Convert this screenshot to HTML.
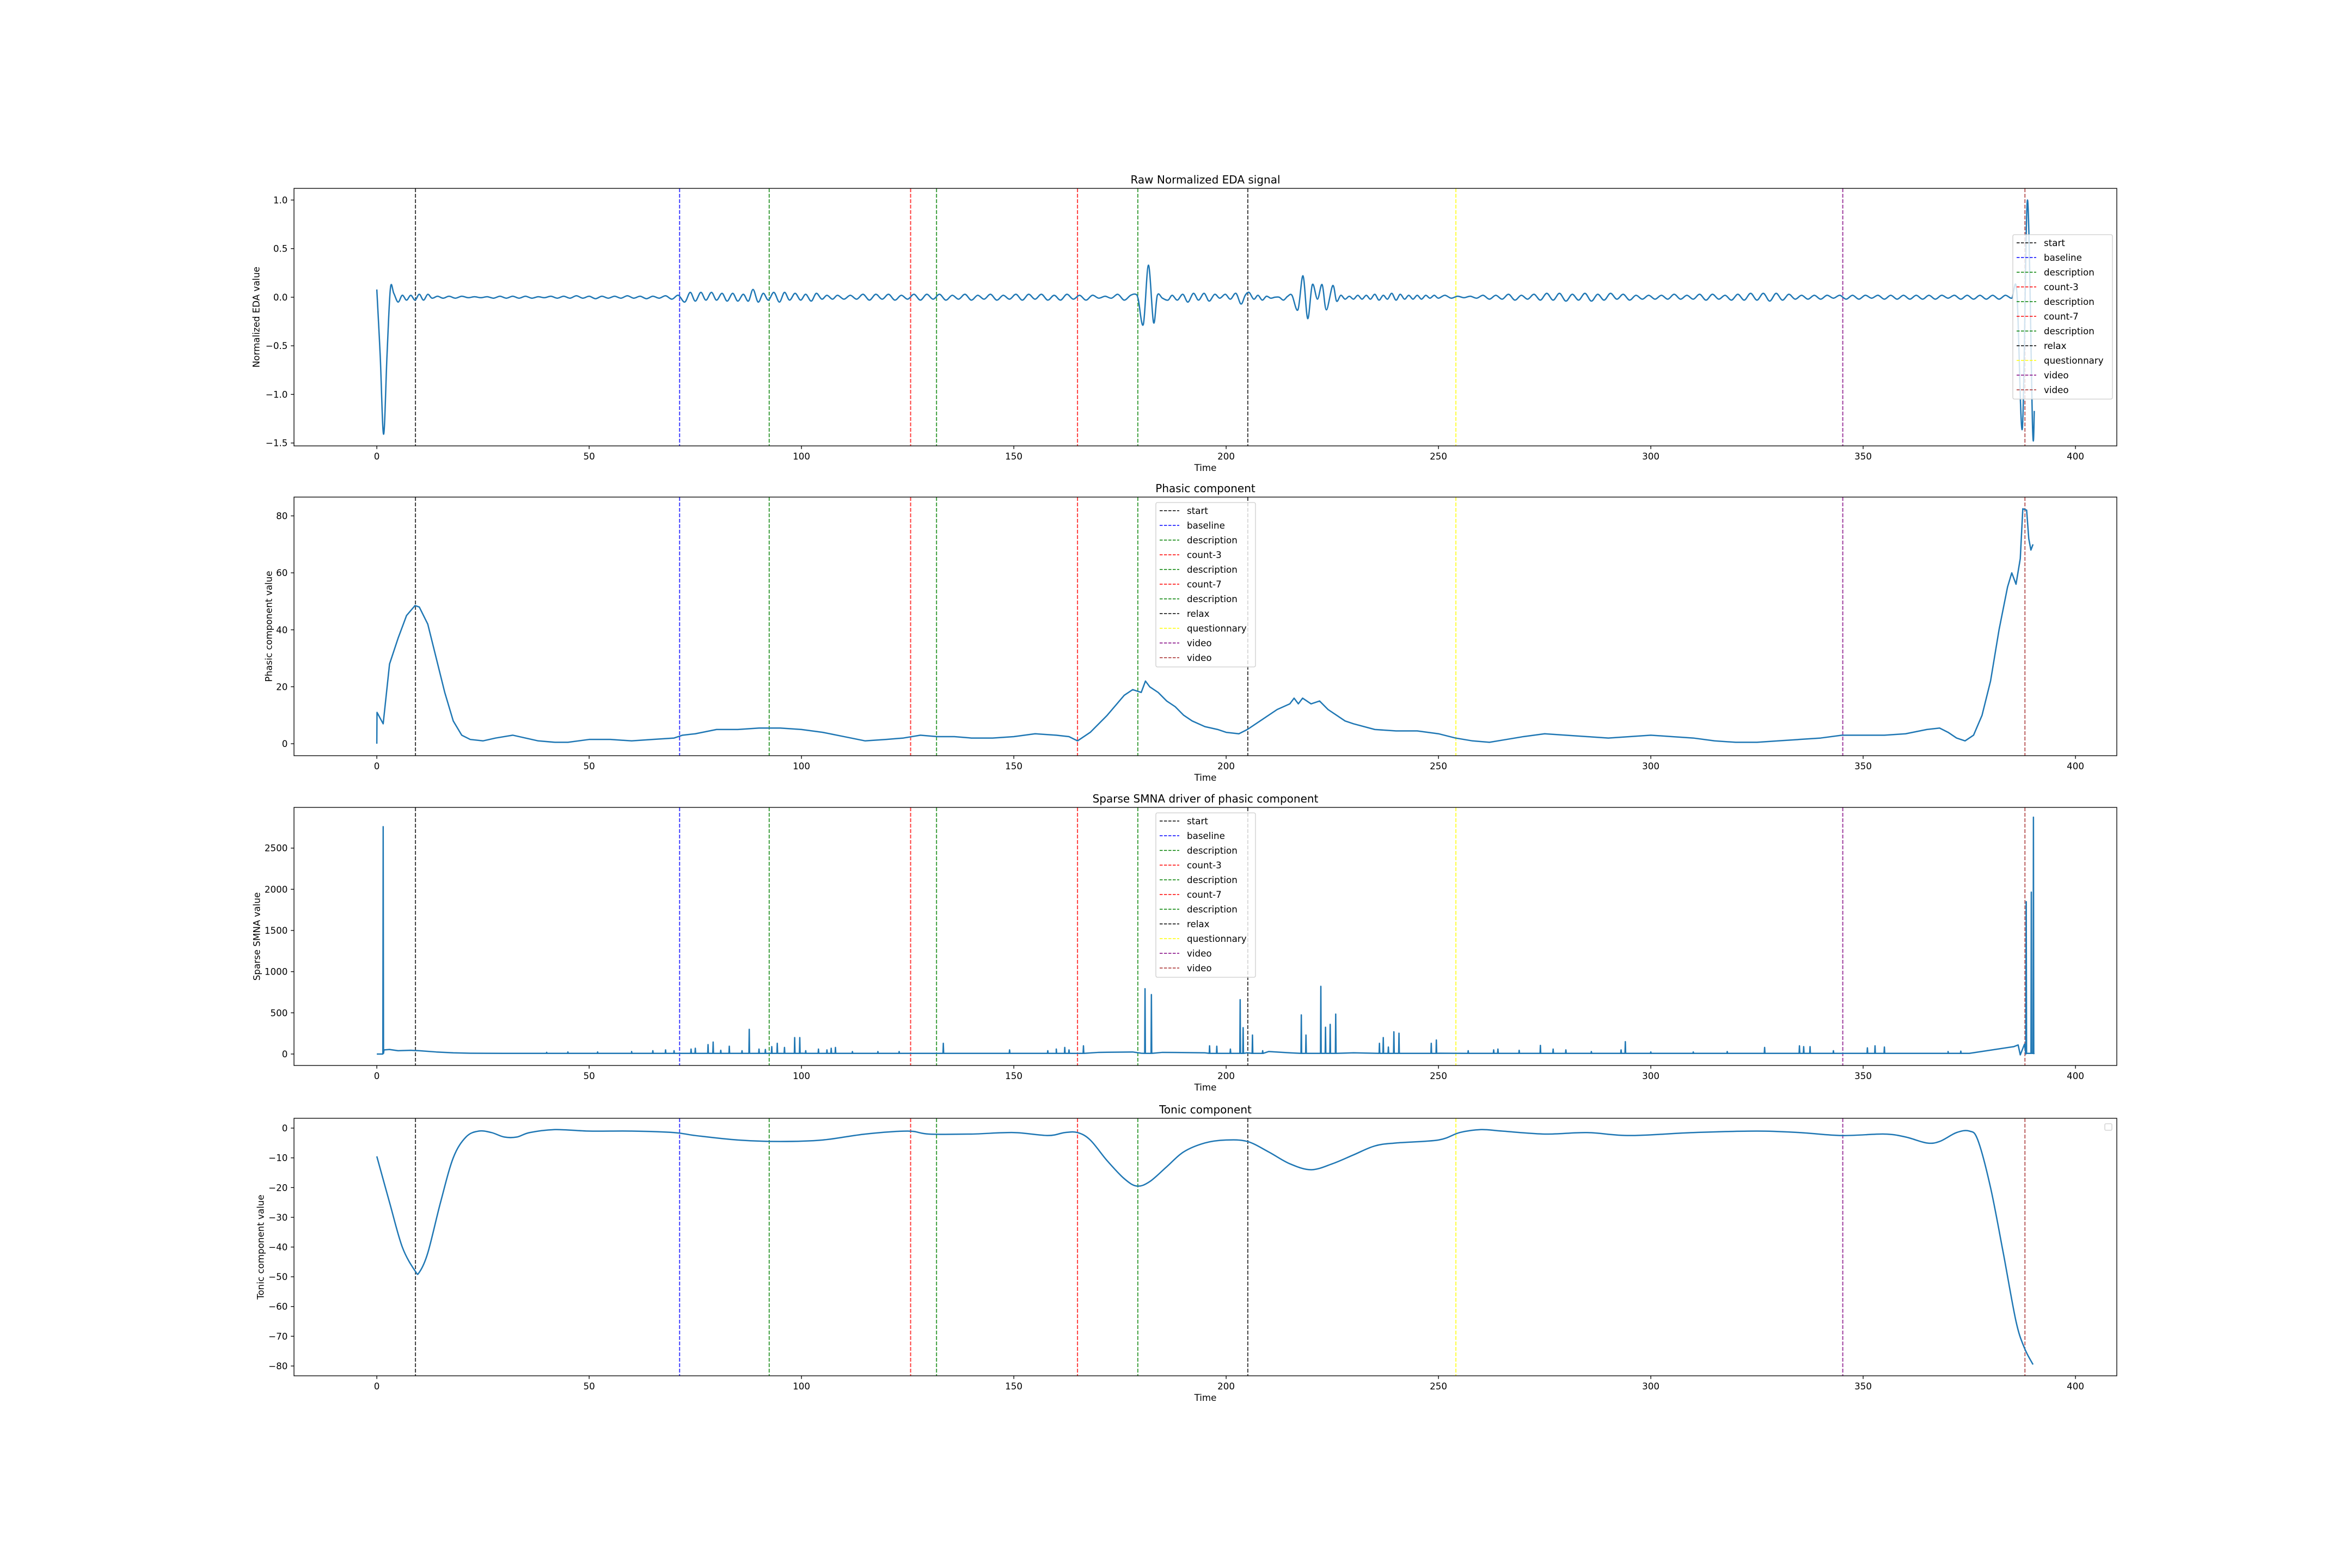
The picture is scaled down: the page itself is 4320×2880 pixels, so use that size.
<!DOCTYPE html>
<html><head><meta charset="utf-8"><title>EDA decomposition</title>
<style>
html,body{margin:0;padding:0;background:#fff;}
svg{display:block;font-family:"DejaVu Sans","Liberation Sans",sans-serif;}
</style></head>
<body>
<svg id="fig" width="4320" height="2880" viewBox="0 0 4320 2880" xmlns="http://www.w3.org/2000/svg">
<rect width="4320" height="2880" fill="#fff"/>
</svg>
<script>
// ---------- data ----------
const xTicks = [0,50,100,150,200,250,300,350,400];
const eventTimes = [9.1,71.3,92.4,125.7,131.8,165.0,179.2,205.1,254.1,345.2,388.1];
const eventLabels = ["start","baseline","description","count-3","description","count-7","description","relax","questionnary","video","video"];
const eventColors = ["#000000","#0000ff","#008000","#ff0000","#008000","#ff0000","#008000","#000000","#ffff00","#800080","#a52a2a"];

const edaKnots = [
[0,0.08],[0.8,-0.6],[1.6,-1.41],[2.4,-0.6],[3.2,0.09],[4,0.04],[5,-0.05],[6,0.02],[7,-0.03],[8,0.02],[9,-0.03],[10,0.03],[11,-0.03],[12,0.03],[13,-0.01],
[14.3,0.01],[15.6,-0.01],[17,0.01],[18.5,-0.01],[20,0.01],[21.5,-0.005],[23,0.005],[24.5,-0.005],[26,0.005],[27.5,-0.01],[29,0.01],[30.5,-0.01],[32,0.01],
[33.5,-0.01],[35,0.01],[36.5,-0.01],[38,0.005],[39.5,-0.005],[41,0.01],[42.5,-0.01],[44,0.01],[45.5,-0.01],[47,0.015],[48.5,-0.01],[50,0.01],[51.5,-0.015],
[53,0.01],[54.5,-0.01],[56,0.01],[57.5,-0.01],[59,0.015],[60.5,-0.01],[62,0.01],[63.5,-0.015],[65,0.01],[66.5,-0.01],[68,0.015],[69.5,-0.02],[71,0.02],
[72.5,-0.05],[73.8,0.05],[75,-0.04],[76.3,0.05],[77.5,-0.03],[78.8,0.05],[80,-0.03],[81.3,0.04],[82.5,-0.04],[83.8,0.04],[85,-0.04],[86.3,0.03],[87.5,-0.04],
[88.6,0.08],[89.8,-0.05],[91,0.04],[92.2,-0.03],[93.5,0.05],[94.8,-0.05],[96,0.05],[97.2,-0.03],[98.5,0.04],[99.8,-0.03],[101,0.03],[102.3,-0.04],[103.5,0.04],
[104.8,-0.02],[106,0.02],[107.3,-0.02],[108.5,0.02],[110,-0.02],[111.5,0.02],[113,-0.02],[114.5,0.03],[116,-0.03],[117.5,0.03],[119,-0.02],[120.5,0.03],
[122,-0.03],[123.5,0.02],[125,-0.02],[126.5,0.03],[128,-0.03],[129.5,0.03],[131,-0.02],[132.5,0.03],[134,-0.03],[135.5,0.02],[137,-0.02],[138.5,0.03],
[140,-0.03],[141.5,0.02],[143,-0.02],[144.5,0.03],[146,-0.03],[147.5,0.02],[149,-0.02],[150.5,0.03],[152,-0.03],[153.5,0.03],[155,-0.02],[156.5,0.03],
[158,-0.03],[159.5,0.02],[161,-0.03],[162.5,0.03],[164,-0.02],[165.5,0.02],[167,-0.03],[168.5,0.02],[170,-0.01],[171.5,0.01],[173,-0.01],[174.5,0.03],
[176,-0.03],[177.5,0.02],[178.7,0.03],[179.3,-0.02],[180.5,-0.28],[181.7,0.33],[182.9,-0.26],[183.8,0.02],[185,-0.01],[186.3,-0.03],[187.3,0.02],
[188.5,-0.03],[189.8,0.03],[191,-0.05],[192.3,0.04],[193.5,-0.03],[194.8,0.04],[196,-0.04],[197.3,0.03],[198.5,-0.01],[199.8,0.03],[201,-0.02],
[202.3,0.04],[203.5,-0.07],[204.5,0.02],[205.4,0.05],[206.5,-0.02],[207.5,0.02],[208.5,-0.03],[209.5,0.01],[210.5,-0.01],[211.5,0.0],[212.5,0.0],
[213.5,-0.03],[214.5,0.01],[215.5,0.02],[216.9,-0.13],[218.1,0.22],[219.2,-0.22],[220.3,0.13],[221.5,-0.02],[222.6,0.13],[223.6,-0.13],[225.1,0.12],
[226,-0.04],[227,0.02],[228,-0.02],[229,0.01],[230,-0.02],[231,0.02],[232,-0.02],[233,0.02],[234,-0.02],[235,0.03],[236,-0.03],[237,0.02],[238,-0.02],
[239,0.04],[240,-0.03],[241,0.03],[242,-0.02],[243,0.02],[244,-0.02],[245,0.02],[246,-0.02],[247,0.02],[248,-0.01],[249,0.02],[250,-0.01],[251.5,0.02],
[253,-0.01],[254.5,0.01],[256,-0.005],[257.5,0.01],[259,-0.01],[260.5,0.02],[262,-0.02],[263.5,0.02],[265,-0.02],[266.5,0.03],[268,-0.03],[269.5,0.02],
[271,-0.02],[272.5,0.03],[274,-0.03],[275.5,0.04],[277,-0.03],[278.5,0.04],[280,-0.04],[281.5,0.03],[283,-0.03],[284.5,0.04],[286,-0.04],[287.5,0.03],
[289,-0.03],[290.5,0.04],[292,-0.02],[293.5,0.03],[295,-0.03],[296.5,0.02],[298,-0.02],[299.5,0.02],[301,-0.02],[302.5,0.02],[304,-0.02],[305.5,0.03],
[307,-0.02],[308.5,0.02],[310,-0.02],[311.5,0.03],[313,-0.03],[314.5,0.03],[316,-0.02],[317.5,0.02],[319,-0.03],[320.5,0.03],[322,-0.03],[323.5,0.04],
[325,-0.03],[326.5,0.04],[328,-0.04],[329.5,0.04],[331,-0.03],[332.5,0.03],[334,-0.02],[335.5,0.02],[337,-0.02],[338.5,0.02],[340,-0.02],[341.5,0.02],
[343,-0.01],[344.5,0.02],[346,-0.02],[347.5,0.02],[349,-0.02],[350.5,0.02],[352,-0.01],[353.5,0.02],[355,-0.02],[356.5,0.02],[358,-0.02],[359.5,0.02],
[361,-0.02],[362.5,0.02],[364,-0.02],[365.5,0.02],[367,-0.02],[368.5,0.02],[370,-0.01],[371.5,0.02],[373,-0.02],[374.5,0.02],[376,-0.02],[377.5,0.02],
[379,-0.02],[380.5,0.02],[382,-0.02],[383.5,0.02],[385,-0.01],[386.2,0.05],[387.5,-1.35],[388.7,1.0],[389.9,-1.35],[390.3,-1.17]
];
const edaT = edaKnots.map(p => p[0]);
const edaV = edaKnots.map(p => p[1]);

const phT = [0,0.05,1.5,3,5,7,9,10,12,14,16,18,20,22,25,28,32,35,38,42,45,50,55,60,65,70,72,75,80,85,90,95,100,105,110,115,120,124,128,132,136,140,145,150,155,160,163,165,168,172,176,178,180,181,182,184,186,188,190,192,195,198,200,203,205,208,212,215,216,217,218,220,222,224,226,228,230,235,240,245,250,254,258,262,266,270,275,280,285,290,295,300,305,310,315,320,325,330,335,340,345,350,355,360,365,368,370,372,374,376,378,380,382,384,385,386,387,387.6,388.5,389,389.5,390];
const phV = [0,11,7,28,37,45,48.5,48,42,30,18,8,3,1.5,1,2,3,2,1,0.5,0.5,1.5,1.5,1,1.5,2,3,3.5,5,5,5.5,5.5,5,4,2.5,1,1.5,2,3,2.5,2.5,2,2,2.5,3.5,3,2.5,1,4,10,17,19,18,22,20,18,15,13,10,8,6,5,4,3.5,5,8,12,14,16,14,16,14,15,12,10,8,7,5,4.5,4.5,3.5,2,1,0.5,1.5,2.5,3.5,3,2.5,2,2.5,3,2.5,2,1,0.5,0.5,1,1.5,2,3,3,3,3.5,5,5.5,4,2,1,3,10,22,40,55,60,56,65,82.5,82,72,68,70];

const smBaseT = [0,1.4,1.7,3,5,8,10,14,18,22,30,60,100,160,170,178,180,185,195,205,210,215,230,250,370,375,385.5,386.5,387,388,388.3,390.3];
const smBaseV = [0,0,50,55,40,45,40,25,15,10,8,8,10,10,20,25,10,20,15,15,30,15,15,10,8,8,90,110,-10,120,0,0];
const spikeT = [1.5,40,45,52,60,65,68,70,74,75,78,79.2,81,83,86,87.7,90,91.5,93,94.3,96,98.4,99.6,101,104,106,107,108,112,118,123,133.4,149,158,160,162,163,166.4,180.9,182.4,196.1,197.8,201,203.3,204,206.2,208.6,217.7,218.8,222.3,223.4,224.5,225.8,236.1,237,238.2,239.5,240.7,248.3,249.5,257,263,264,269,274,277,280,286,293,294,300,310,318,326.8,335,336,337.5,343,351,352.8,355,370,373,388.4,389.6,390.1];
const spikeV = [2760,20,25,25,30,40,50,40,60,70,115,145,45,95,40,300,60,55,90,130,80,200,200,40,60,50,70,80,30,30,30,130,50,40,60,80,50,100,793,722,100,95,60,660,320,230,40,475,230,822,325,360,485,130,200,85,270,253,130,170,40,50,60,45,105,60,50,30,50,150,25,25,30,80,100,90,90,40,75,100,85,30,35,1850,1965,2875];

const tonT = [0,3,6,9,10,12,15,18,21,24,27,30,33,36,42,50,60,70,75,85,95,105,115,125,130,140,150,158,162,165,168,172,176,179,182,186,190,195,200,205,210,215,220,225,230,235,240,250,255,260,265,275,285,295,310,325,335,345,355,360,365,368,372,375,377,380,383,386,388,390];
const tonV = [-9.5,-25,-40,-48,-48.5,-42,-25,-10,-3,-1,-1.5,-3,-3,-1.5,-0.5,-1,-1,-1.5,-2.5,-4,-4.5,-4,-2,-1,-2,-2,-1.5,-2.5,-1.5,-1.5,-4,-11,-17,-19.5,-18,-13,-8,-5,-4,-4.5,-8,-12,-14,-12,-9,-6,-5,-4,-1.5,-0.5,-1,-2,-1.5,-2.5,-1.5,-1,-1.5,-2.5,-2,-3,-5,-4.5,-1.5,-1,-4,-20,-42,-65,-74,-79.5];

const p1Ticks = [-1.5,-1.0,-0.5,0.0,0.5,1.0];
const p2Ticks = [0,20,40,60,80];
const p3Ticks = [0,500,1000,1500,2000,2500];
const p4Ticks = [0,-10,-20,-30,-40,-50,-60,-70,-80];

// ---------- layout ----------
const NS = "http://www.w3.org/2000/svg";
const svg = document.getElementById('fig');
const AX_L = 540, AX_R = 3888, X_MIN = -19.5, PXU = 7.8;
function xs(t){ return AX_L + (t - X_MIN) * PXU; }
function mk(tag, attrs, parent){ const e = document.createElementNS(NS, tag); for (const k in attrs) e.setAttribute(k, attrs[k]); (parent||svg).appendChild(e); return e; }
function fmtTick(v, dec){ const s = Math.abs(v).toFixed(dec); return (v < 0 ? "\u2212" : "") + s; }
function smoothPath(pts){
  let d = "M" + pts[0][0].toFixed(2) + "," + pts[0][1].toFixed(2);
  for (let i = 0; i < pts.length - 1; i++){
    const p0 = pts[Math.max(0,i-1)], p1 = pts[i], p2 = pts[i+1], p3 = pts[Math.min(pts.length-1,i+2)];
    const c1x = p1[0] + (p2[0]-p0[0])/6, c1y = p1[1] + (p2[1]-p0[1])/6;
    const c2x = p2[0] - (p3[0]-p1[0])/6, c2y = p2[1] - (p3[1]-p1[1])/6;
    d += " C" + c1x.toFixed(2) + "," + c1y.toFixed(2) + " " + c2x.toFixed(2) + "," + c2y.toFixed(2) + " " + p2[0].toFixed(2) + "," + p2[1].toFixed(2);
  }
  return d;
}
function linePath(pts){ return pts.map((p,i)=>(i?"L":"M")+p[0].toFixed(2)+","+p[1].toFixed(2)).join(" "); }

const panels = [
  {top:346, bot:819, ymin:-1.53, ymax:1.12, title:"Raw Normalized EDA signal", ylabel:"Normalized EDA value", ylx:472, ticks:p1Ticks, dec:1, legend:{x:3697,y:431}, name:"raw-eda"},
  {top:913, bot:1388, ymin:-4.2, ymax:86.6, title:"Phasic component", ylabel:"Phasic component value", ylx:495, ticks:p2Ticks, dec:0, legend:{x:2123,y:923}, name:"phasic"},
  {top:1483, bot:1957, ymin:-139, ymax:2994, title:"Sparse SMNA driver of phasic component", ylabel:"Sparse SMNA value", ylx:473, ticks:p3Ticks, dec:0, legend:{x:2123,y:1493}, name:"smna"},
  {top:2054, bot:2527, ymin:-83.3, ymax:3.3, title:"Tonic component", ylabel:"Tonic component value", ylx:480, ticks:p4Ticks, dec:0, legend:null, name:"tonic"}
];

panels.forEach((P, pi) => {
  const ys = v => P.bot - (v - P.ymin) / (P.ymax - P.ymin) * (P.bot - P.top);
  const g = mk('g', {});
  
  
  const clipId = 'clip' + pi;
  const cp = mk('clipPath', {id: clipId}, g);
  mk('rect', {x: AX_L, y: P.top, width: AX_R - AX_L, height: P.bot - P.top}, cp);

  eventTimes.forEach((t, i) => {
    const l = mk('line', {x1: xs(t), x2: xs(t), y1: P.top, y2: P.bot, stroke: eventColors[i], 'stroke-opacity': 0.75, 'stroke-width': 2, 'stroke-dasharray': '7,3'}, g);
    
    
  });

  let d;
  if (pi === 0) d = smoothPath(edaT.map((t,i)=>[xs(t), ys(edaV[i])]));
  else if (pi === 1) d = linePath(phT.map((t,i)=>[xs(t), ys(phV[i])]));
  else if (pi === 2){
    const pts = [];
    smBaseT.forEach((t,i)=>pts.push([t, smBaseV[i]]));
    spikeT.forEach((t,i)=>{ pts.push([t-0.08, 8]); pts.push([t, spikeV[i]]); pts.push([t+0.08, 8]); });
    pts.sort((a,b)=>a[0]-b[0]);
    d = linePath(pts.map(p=>[xs(p[0]), ys(p[1])]));
  } else d = smoothPath(tonT.map((t,i)=>[xs(t), ys(tonV[i])]));
  const s = mk('path', {d: d, fill: 'none', stroke: '#1f77b4', 'stroke-width': 2.5, 'stroke-linejoin': 'round', 'clip-path': 'url(#' + clipId + ')'}, g);
  
  

  const fr = mk('rect', {x: AX_L, y: P.top, width: AX_R - AX_L, height: P.bot - P.top, fill: 'none', stroke: '#000', 'stroke-width': 1.33}, g);
  
  

  xTicks.forEach(t => {
    const x = xs(t);
    mk('line', {x1: x, x2: x, y1: P.bot, y2: P.bot + 5.8, stroke: '#000', 'stroke-width': 1.33}, g);
    const tx = mk('text', {x: x, y: P.bot + 25, 'text-anchor': 'middle', 'font-size': 16.7, fill: '#000'}, g);
    tx.textContent = String(t);
    
    
  });
  const xl = mk('text', {x: (AX_L + AX_R)/2, y: P.bot + 46, 'text-anchor': 'middle', 'font-size': 16.7, fill: '#000'}, g);
  xl.textContent = 'Time';
  
  

  P.ticks.forEach(v => {
    const y = ys(v);
    mk('line', {x1: AX_L - 5.8, x2: AX_L, y1: y, y2: y, stroke: '#000', 'stroke-width': 1.33}, g);
    const ty = mk('text', {x: AX_L - 11.6, y: y + 6, 'text-anchor': 'end', 'font-size': 16.7, fill: '#000'}, g);
    ty.textContent = fmtTick(v, P.dec);
    
    
  });
  const cy = (P.top + P.bot)/2;
  const yl = mk('text', {x: P.ylx, y: cy, 'text-anchor': 'middle', 'font-size': 16.7, fill: '#000', transform: 'rotate(-90 ' + P.ylx + ' ' + cy + ')', 'dominant-baseline': 'middle'}, g);
  yl.textContent = P.ylabel;
  
  

  const ti = mk('text', {x: (AX_L + AX_R)/2, y: P.top - 9, 'text-anchor': 'middle', 'font-size': 20, fill: '#000'}, g);
  ti.textContent = P.title;
  
  

  if (P.legend){
    const lg = mk('g', {}, g);
    
    
    mk('rect', {x: P.legend.x, y: P.legend.y, width: 183, height: 302, rx: 3, fill: '#fff', 'fill-opacity': 0.8, stroke: '#cccccc', 'stroke-width': 1.3}, lg);
    eventLabels.forEach((lab, i) => {
      const ry = P.legend.y + 15 + i * 27;
      const ent = mk('g', {}, lg);
      
      
      mk('line', {x1: P.legend.x + 7, x2: P.legend.x + 43, y1: ry, y2: ry, stroke: eventColors[i], 'stroke-opacity': 0.75, 'stroke-width': 2, 'stroke-dasharray': '5.5,2.5'}, ent);
      const lt = mk('text', {x: P.legend.x + 57, y: ry + 6, 'font-size': 16.7, fill: '#000'}, ent);
      lt.textContent = lab;
    });
  } else {
    const el = mk('rect', {x: 3866, y: 2064, width: 13, height: 12, rx: 2, fill: '#fff', 'fill-opacity': 0.8, stroke: '#cccccc', 'stroke-width': 1.3}, g);
    
    
  }
});
</script>
</body></html>
